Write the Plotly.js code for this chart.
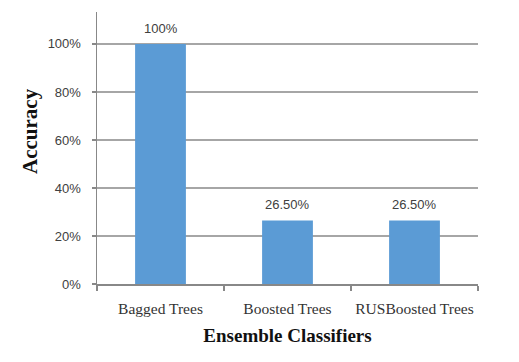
<!DOCTYPE html>
<html>
<head>
<meta charset="utf-8">
<script src="https://cdn.plot.ly/plotly-3.0.1.min.js"></script>
<style>html,body{margin:0;padding:0;background:#fff;}#chart{width:519px;height:362px;}</style>
</head>
<body>
<div id="chart"></div>
<script>
const categories = ["Bagged Trees", "Boosted Trees", "RUSBoosted Trees"];
const accuracy = [1.0, 0.265, 0.265];
const valueLabels = ["100%", "26.50%", "26.50%"];
const yTickValues = [0, 0.2, 0.4, 0.6, 0.8, 1.0];
const yTickLabels = ["0%", "20%", "40%", "60%", "80%", "100%"];

const trace = {
  type: "bar",
  x: categories,
  y: accuracy,
  marker: {color: "#5B9BD5"},
  hoverinfo: "none"
};

const annotations = categories.map((c, i) => ({
  x: c, y: accuracy[i], xref: "x", yref: "y",
  text: valueLabels[i], showarrow: false,
  yanchor: "bottom", yshift: 6,
  font: {family: "Liberation Sans", size: 13, color: "#404040"}
}));

annotations.push({
  text: "<b>Accuracy</b>", textangle: -90, showarrow: false,
  xref: "paper", yref: "paper", x: -0.176, y: 0.5625,
  xanchor: "center", yanchor: "middle",
  font: {family: "Liberation Serif", size: 21, color: "#111"}
});

const layout = {
  width: 519, height: 362,
  margin: {l: 97, r: 41, t: 12, b: 78},
  paper_bgcolor: "#fff", plot_bgcolor: "#fff",
  bargap: 0.6,
  showlegend: false,
  xaxis: {
    showline: true, linecolor: "#888", linewidth: 1.5,
    ticks: "outside", ticklen: 5, tickcolor: "#888", tickwidth: 1.5,
    tickson: "boundaries",
    tickangle: 0,
    ticklabelstandoff: 10,
    tickfont: {family: "Liberation Serif", size: 15.5, color: "#333"},
    title: {text: "<b>Ensemble Classifiers</b>", font: {family: "Liberation Serif", size: 19, color: "#111"}, standoff: 12}
  },
  yaxis: {
    range: [0, 1.133],
    tickvals: yTickValues, ticktext: yTickLabels,
    showline: true, linecolor: "#888", linewidth: 1.5,
    ticks: "outside", ticklen: 4, tickcolor: "#888", tickwidth: 1.5,
    showgrid: true, gridcolor: "#A6A6A6", gridwidth: 1.5,
    zeroline: false,
    ticklabelstandoff: 8,
    tickfont: {family: "Liberation Sans", size: 13, color: "#404040"}
  },
  annotations: annotations
};

Plotly.newPlot("chart", [trace], layout, {displayModeBar: false, staticPlot: true});
</script>
</body>
</html>
